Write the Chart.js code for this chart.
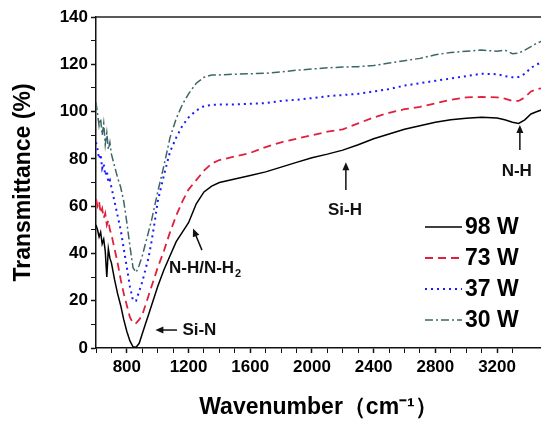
<!DOCTYPE html>
<html>
<head>
<meta charset="utf-8">
<script src="https://cdn.jsdelivr.net/npm/chart.js@4.4.1/dist/chart.umd.min.js"></script>
<style>
  html, body { margin: 0; padding: 0; background: #fff; overflow: hidden; }
</style>
</head>
<body>
<canvas id="ftirChart" width="545" height="426"></canvas>
<script>
// Wavenumber grid (cm-1)
const wavenumber = [600, 610, 620, 630, 640, 650, 660, 670, 680, 690, 700,
    720, 740, 760, 780, 800, 820, 840, 860, 880, 900, 920, 940, 960, 980,
    1000, 1040, 1080, 1120, 1160, 1200, 1250, 1300, 1350, 1400,
    1500, 1600, 1700, 1800, 1900, 2000, 2100, 2200, 2300, 2400, 2500, 2600,
    2700, 2800, 2900, 3000, 3100, 3200, 3250, 3300, 3340, 3380, 3420, 3460, 3500];

// Transmittance (%) for each power
const t98 = [52, 50, 47, 49, 44, 46, 41, 30, 42, 38, 36,
    29, 23, 18, 12, 7, 3, 0.5, 0.3, 2, 6, 10, 14, 18, 22,
    26, 33, 39, 45, 49, 53, 61, 66, 68.5, 70,
    71.5, 73, 74.5, 76.5, 78.5, 80.5, 82, 83.7, 86, 88.5, 90.5, 92.5,
    94, 95.5, 96.5, 97.2, 97.6, 97.3, 96.5, 95.5, 95, 96.5, 99, 100, 101];
const t73 = [63, 60, 62, 57, 59, 55, 57, 52, 54, 50, 48,
    42, 36, 29, 23, 18, 13, 10.5, 10.5, 12, 14, 18, 22, 26, 30,
    34, 41, 49, 56, 62, 67, 71, 75, 78, 79.5,
    81, 82.5, 85, 87, 88.5, 90, 91.5, 92.5, 95, 97.5, 99.5, 101,
    102, 103.5, 105, 106, 106.2, 106, 105.5, 104.5, 104.5, 106, 108.5, 109.5, 110];
const t37 = [87, 84, 80, 82, 76, 78, 73, 75, 70, 71, 68,
    62, 56, 50, 42, 34, 26, 20, 20, 24, 28, 33, 38, 45, 53,
    62, 73, 83, 89, 94, 97.5, 100.5, 102.3, 102.8, 103,
    103, 103.3, 103.6, 104.5, 105, 105.7, 106.5, 107, 107.5, 108.5, 109.5, 111,
    112, 113, 114, 115, 116, 115.8, 115, 114.5, 114.6, 116, 118.5, 120, 121];
const t30 = [104, 99, 94, 97, 90, 95, 86, 91, 84, 87, 82,
    77, 72, 68, 62, 53, 43, 34, 32, 35, 39, 44, 49, 54, 60,
    66, 77, 89, 97, 103, 107.5, 112, 114.5, 115.5, 115.5,
    115.8, 116, 116.2, 116.8, 117.5, 118, 118.5, 118.8, 119, 119.5, 120.5, 121.5,
    122.5, 124, 125, 125.5, 126, 125.5, 126, 124.5, 124.7, 126, 127.5, 129, 130];

const seriesLabels = ['98 W', '73 W', '37 W', '30 W'];

// Band assignments: label text, position (data units), arrow from/to (data units)
const bands = [
    { text: 'Si-N', x: 1160, y: 7.6, align: 'left', from: [1125, 7.6], to: [985, 7.6] },
    { text: 'N-H/N-H', sub: '2', x: 1073, y: 33.8, align: 'left', from: [1287, 41.4], to: [1229, 50.5] },
    { text: 'Si-H', x: 2214, y: 58.3, align: 'center', from: [2220, 66.8], to: [2220, 78.6] },
    { text: 'N-H', x: 3328, y: 74.8, align: 'center', from: [3348, 83.7], to: [3348, 94.3] }
];

const FONT = 'Arial, "Liberation Sans", sans-serif';

function toPoints(values) {
    return wavenumber.map((w, i) => ({ x: w, y: values[i] }));
}

// Top frame line
const frame = {
    id: 'frame',
    afterDraw(chart) {
        const ctx = chart.ctx, a = chart.chartArea;
        ctx.save();
        ctx.strokeStyle = '#222';
        ctx.lineWidth = 1.5;
        ctx.beginPath();
        ctx.moveTo(a.left, a.top);
        ctx.lineTo(a.right + 4, a.top);
        ctx.stroke();
        ctx.restore();
    }
};

// Arrows and band labels
function arrow(ctx, x1, y1, x2, y2) {
    const ang = Math.atan2(y2 - y1, x2 - x1);
    ctx.beginPath();
    ctx.moveTo(x1, y1);
    ctx.lineTo(x2 - 5 * Math.cos(ang), y2 - 5 * Math.sin(ang));
    ctx.stroke();
    ctx.beginPath();
    ctx.moveTo(x2, y2);
    ctx.lineTo(x2 - 8 * Math.cos(ang) + 3.5 * Math.sin(ang), y2 - 8 * Math.sin(ang) - 3.5 * Math.cos(ang));
    ctx.lineTo(x2 - 8 * Math.cos(ang) - 3.5 * Math.sin(ang), y2 - 8 * Math.sin(ang) + 3.5 * Math.cos(ang));
    ctx.closePath();
    ctx.fill();
}

const bandNotes = {
    id: 'bandNotes',
    afterDatasetsDraw(chart) {
        const ctx = chart.ctx, xs = chart.scales.x, ys = chart.scales.y;
        ctx.save();
        ctx.fillStyle = '#111';
        ctx.strokeStyle = '#111';
        ctx.lineWidth = 1.5;
        bands.forEach(b => {
            arrow(ctx, xs.getPixelForValue(b.from[0]), ys.getPixelForValue(b.from[1]),
                xs.getPixelForValue(b.to[0]), ys.getPixelForValue(b.to[1]));
            ctx.font = 'bold 17px ' + FONT;
            ctx.textBaseline = 'middle';
            ctx.textAlign = b.align;
            const px = xs.getPixelForValue(b.x), py = ys.getPixelForValue(b.y);
            ctx.fillText(b.text, px, py);
            if (b.sub) {
                const w = ctx.measureText(b.text).width;
                ctx.font = 'bold 11px ' + FONT;
                ctx.textAlign = 'left';
                ctx.fillText(b.sub, px + w + 1, py + 6);
            }
        });
        ctx.restore();
    }
};

// Legend inside the plot, lower right
const insideLegend = {
    id: 'insideLegend',
    afterDatasetsDraw(chart) {
        const ctx = chart.ctx, a = chart.chartArea;
        ctx.save();
        chart.data.datasets.forEach((ds, i) => {
            const y = a.top + 210 + i * 31;
            const x0 = a.right - 116;
            ctx.strokeStyle = ds.borderColor;
            ctx.lineWidth = ds.borderWidth;
            ctx.setLineDash(ds.borderDash || []);
            ctx.beginPath();
            ctx.moveTo(x0, y);
            ctx.lineTo(x0 + 37, y);
            ctx.stroke();
            ctx.setLineDash([]);
            ctx.fillStyle = '#000';
            ctx.font = 'bold 23px ' + FONT;
            ctx.textAlign = 'left';
            ctx.textBaseline = 'middle';
            ctx.fillText(ds.label, x0 + 40, y + 1);
        });
        ctx.restore();
    }
};

const ctx = document.getElementById('ftirChart').getContext('2d');
new Chart(ctx, {
    type: 'line',
    data: {
        datasets: [
            { label: seriesLabels[0], data: toPoints(t98), borderColor: '#000000', borderWidth: 1.5 },
            { label: seriesLabels[1], data: toPoints(t73), borderColor: '#e0203c', borderWidth: 1.8, borderDash: [8, 5] },
            { label: seriesLabels[2], data: toPoints(t37), borderColor: '#1a1aff', borderWidth: 2, borderDash: [2, 4] },
            { label: seriesLabels[3], data: toPoints(t30), borderColor: '#3f6666', borderWidth: 1.5, borderDash: [8, 3, 2, 3] }
        ]
    },
    options: {
        responsive: false,
        animation: false,
        parsing: false,
        layout: { padding: { top: 17, left: 0, right: 0, bottom: 0 } },
        elements: { point: { radius: 0 }, line: { tension: 0 } },
        plugins: {
            legend: { display: false },
            tooltip: { enabled: false }
        },
        scales: {
            x: {
                type: 'linear',
                min: 600,
                max: 3485,
                border: { color: '#111', width: 1.5 },
                grid: {
                    drawOnChartArea: false,
                    tickLength: 5,
                    tickColor: '#111',
                    tickWidth: c => (c.tick && c.tick.value % 400 === 0 ? 1.5 : 1)
                },
                ticks: {
                    stepSize: 100,
                    autoSkip: false,
                    maxRotation: 0,
                    padding: 4,
                    color: '#000',
                    font: { family: FONT, size: 17, weight: 'bold' },
                    callback: v => (v % 400 === 0 ? v : '')
                },
                title: {
                    display: true,
                    text: 'Wavenumber（cm⁻¹）',
                    color: '#000',
                    font: { family: FONT, size: 23, weight: 'bold' },
                    padding: { top: 0, bottom: 5 }
                },
                afterFit: s => { s.height = 78; }
            },
            y: {
                min: 0,
                max: 140,
                border: { color: '#111', width: 1.5 },
                grid: {
                    drawOnChartArea: false,
                    tickLength: 5,
                    tickColor: '#111',
                    tickWidth: c => (c.tick && c.tick.value % 20 === 0 ? 1.5 : 1)
                },
                ticks: {
                    stepSize: 10,
                    autoSkip: false,
                    padding: 3,
                    color: '#000',
                    font: { family: FONT, size: 17, weight: 'bold' },
                    callback: v => (v % 20 === 0 ? v : '')
                },
                title: {
                    display: true,
                    text: 'Transmittance (%)',
                    color: '#000',
                    font: { family: FONT, size: 23, weight: 'bold' },
                    padding: { top: 10, bottom: 0 }
                },
                afterFit: s => { s.width = 96; }
            }
        }
    },
    plugins: [frame, bandNotes, insideLegend]
});
</script>
</body>
</html>
